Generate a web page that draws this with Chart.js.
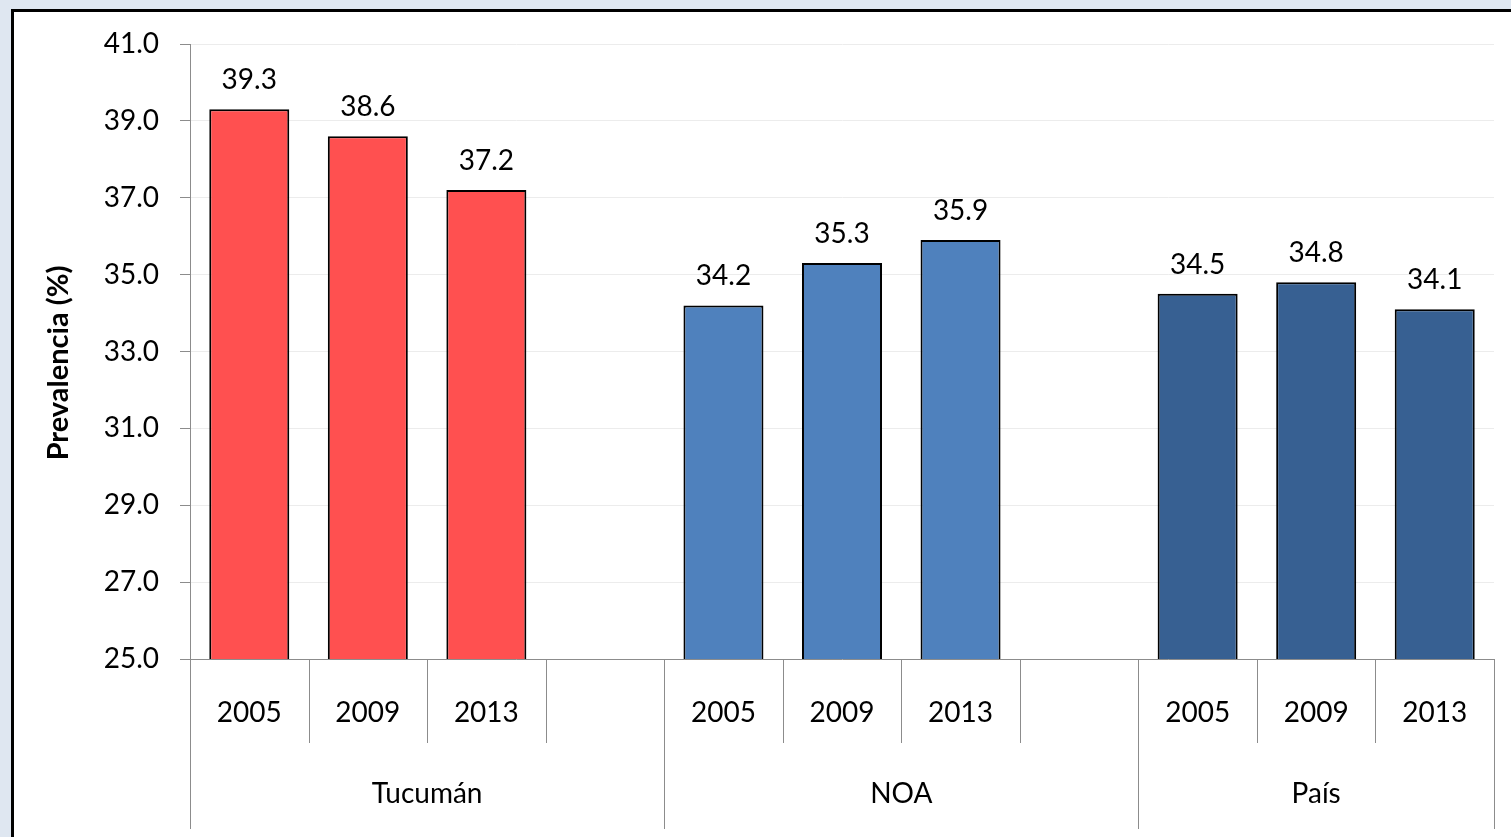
<!DOCTYPE html>
<html>
<head>
<meta charset="utf-8">
<script src="https://cdn.jsdelivr.net/npm/chart.js@4.4.0/dist/chart.umd.min.js"></script>
<style>
  html, body { margin: 0; padding: 0; background: #dfe7f1; overflow: hidden; }
  #frame { position: absolute; left: 11px; top: 9px; width: 1600px; height: 900px; border: 3px solid #000; background: #fff; }
  #wrap { position: absolute; left: 0; top: 0; width: 1497px; height: 825px; }
</style>
</head>
<body>
<div id="frame"><div id="wrap"><canvas id="chart"></canvas></div></div>
<script>
// datos
const years = ['2005', '2009', '2013'];
const groups = ['Tucumán', 'NOA', 'País'];
const tucuman = [39.3, 38.6, 37.2];
const noa = [34.2, 35.3, 35.9];
const pais = [34.5, 34.8, 34.1];
const groupColors = ['#ff5050', '#4f81bd', '#376092'];
const yMin = 25, yMax = 41, yStep = 2;

// armar categorias con un espacio vacio entre grupos
const series = [tucuman, noa, pais];
const labels = [], values = [], colors = [], spans = [];
series.forEach((vals, g) => {
    const start = labels.length;
    years.forEach((yr, i) => {
        labels.push(yr);
        values.push(vals[i]);
        colors.push(groupColors[g]);
    });
    if (g < series.length - 1) {
        labels.push('');
        values.push(null);
        colors.push('transparent');
    }
    spans.push([start, labels.length]);
});

Chart.defaults.font.family = 'Lato, "Noto Sans", sans-serif';
Chart.defaults.color = '#000';

const axisGray = '#8c8c8c';

// eje de categorias en dos niveles
const groupAxis = {
    id: 'groupAxis',
    afterDraw(chart) {
        const x = chart.scales.x, ctx = chart.ctx;
        const w = x.getPixelForValue(1) - x.getPixelForValue(0);
        const edge = k => x.getPixelForValue(k) - w / 2;
        const longEdges = [0].concat(spans.map(s => s[1]));
        ctx.save();
        ctx.strokeStyle = axisGray;
        ctx.lineWidth = 1;
        for (let k = 0; k <= labels.length; k++) {
            const px = Math.round(edge(k)) + 0.5;
            const len = longEdges.includes(k) ? 170 : 84;
            ctx.beginPath();
            ctx.moveTo(px, x.top);
            ctx.lineTo(px, x.top + len);
            ctx.stroke();
        }
        ctx.fillStyle = '#000';
        ctx.font = '28px Lato, "Noto Sans", sans-serif';
        ctx.textAlign = 'center';
        ctx.textBaseline = 'middle';
        spans.forEach((s, g) => {
            ctx.fillText(groups[g], (edge(s[0]) + edge(s[1])) / 2, x.top + 135);
        });
        ctx.restore();
    }
};

// valores encima de las barras
const barValues = {
    id: 'barValues',
    afterDatasetsDraw(chart) {
        const ctx = chart.ctx;
        const meta = chart.getDatasetMeta(0);
        ctx.save();
        ctx.fillStyle = '#000';
        ctx.font = '28px Lato, "Noto Sans", sans-serif';
        ctx.textAlign = 'center';
        ctx.textBaseline = 'alphabetic';
        meta.data.forEach((bar, i) => {
            if (values[i] == null) return;
            ctx.fillText(values[i].toFixed(1), bar.x, bar.y - 20);
        });
        ctx.restore();
    }
};

// titulo del eje y
const yTitle = {
    id: 'yTitle',
    afterDraw(chart) {
        const ctx = chart.ctx;
        ctx.save();
        ctx.translate(44.5, 351);
        ctx.rotate(-Math.PI / 2);
        ctx.fillStyle = '#000';
        ctx.font = 'bold 29px Lato, "Noto Sans", sans-serif';
        ctx.textAlign = 'center';
        ctx.textBaseline = 'middle';
        ctx.fillText('Prevalencia (%)', 0, 0);
        ctx.restore();
    }
};

const ctx = document.getElementById('chart').getContext('2d');
new Chart(ctx, {
    type: 'bar',
    data: {
        labels: labels,
        datasets: [{
            data: values,
            backgroundColor: colors,
            borderColor: '#000',
            borderWidth: 2,
            barPercentage: 0.675,
            categoryPercentage: 1
        }]
    },
    options: {
        responsive: true,
        maintainAspectRatio: false,
        animation: false,
        layout: { padding: { top: 32, right: 17, bottom: 0, left: 0 } },
        plugins: {
            legend: { display: false },
            tooltip: { enabled: false }
        },
        scales: {
            x: {
                offset: true,
                grid: { display: false },
                border: { color: axisGray, width: 1 },
                ticks: { font: { size: 28 }, padding: 29, autoSkip: false, maxRotation: 0 },
                afterFit: s => { s.height = 178; }
            },
            y: {
                min: yMin,
                max: yMax,
                grid: { color: '#ececec', tickColor: axisGray, tickLength: 10 },
                border: { color: axisGray, width: 1 },
                ticks: {
                    stepSize: yStep,
                    font: { size: 28 },
                    padding: 21,
                    callback: v => v.toFixed(1)
                },
                afterFit: s => { s.width = 176; s.paddingTop = 0; s.paddingBottom = 0; }
            }
        }
    },
    plugins: [groupAxis, barValues, yTitle]
});
</script>
</body>
</html>
